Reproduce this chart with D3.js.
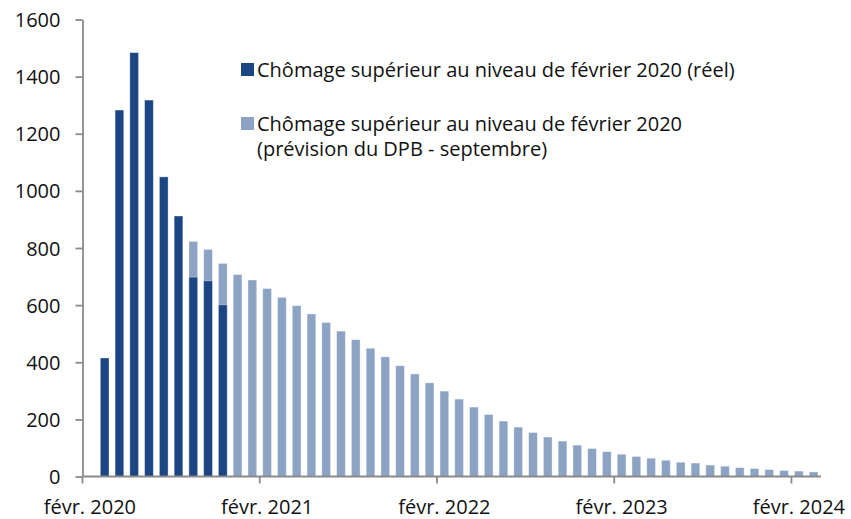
<!DOCTYPE html>
<html>
<head>
<meta charset="utf-8">
<script src="https://cdn.jsdelivr.net/npm/d3@7"></script>
<style>
  body { margin: 0; background: #fff; }
  svg { font-family: "Open Sans", "Noto Sans", sans-serif; }
  .axis path, .axis line { stroke: #8a8a8a; stroke-width: 1.8; }
  .axis text { font-size: 20px; fill: #111; }
  .legend text { font-size: 20px; fill: #111; }
</style>
</head>
<body>
<svg id="chart" width="851" height="519"></svg>
<script>
// mois (févr. 2020 -> mars 2024)
const months = [
  "2020-02","2020-03","2020-04","2020-05","2020-06","2020-07","2020-08","2020-09","2020-10","2020-11","2020-12",
  "2021-01","2021-02","2021-03","2021-04","2021-05","2021-06","2021-07","2021-08","2021-09","2021-10","2021-11","2021-12",
  "2022-01","2022-02","2022-03","2022-04","2022-05","2022-06","2022-07","2022-08","2022-09","2022-10","2022-11","2022-12",
  "2023-01","2023-02","2023-03","2023-04","2023-05","2023-06","2023-07","2023-08","2023-09","2023-10","2023-11","2023-12",
  "2024-01","2024-02","2024-03"
];
// chômage réel (milliers), févr. -> nov. 2020
const reel = [null, 415, 1283, 1484, 1318, 1049, 912, 698, 685, 601];
// prévision DPB septembre, à partir de sept. 2020
const prevision = [
  null, null, null, null, null, null, null,
  823, 795, 746, 707, 688, 658, 627, 598, 569, 539, 509, 479, 449, 419,
  388, 359, 328, 299, 271, 243, 217, 194, 173, 154, 138, 124, 110, 98,
  87, 78, 70, 64, 57, 50, 47, 40, 36, 31, 28, 24, 21, 19, 16
];
const yTicks = [0, 200, 400, 600, 800, 1000, 1200, 1400, 1600];
const xTickMonths = ["2020-02", "2021-02", "2022-02", "2023-02", "2024-02"];
const xTickLabels = ["févr. 2020", "févr. 2021", "févr. 2022", "févr. 2023", "févr. 2024"];
const legendItems = [
  { lines: ["Chômage supérieur au niveau de février 2020 (réel)"], color: "#1b4583" },
  { lines: ["Chômage supérieur au niveau de février 2020", "(prévision du DPB - septembre)"], color: "#8ca3c3" }
];

const svg = d3.select("#chart");
const plotL = 82.5, plotR = 821, plotT = 19.5, plotB = 476.5;

const x = d3.scaleBand().domain(months).range([plotL, plotR]).paddingInner(0.41).paddingOuter(0.205);
const y = d3.scaleLinear().domain([0, 1600]).range([plotB, plotT]);

// barres : prévision derrière, réel devant
function drawBars(values, color) {
  svg.append("g").selectAll("rect")
    .data(months.map((m, i) => ({ m, v: values[i] })).filter(d => d.v != null))
    .enter().append("rect")
    .attr("x", d => x(d.m))
    .attr("width", x.bandwidth())
    .attr("y", d => y(d.v))
    .attr("height", d => y(0) - y(d.v))
    .attr("fill", color)
    .attr("stroke", "rgba(255,255,255,0.45)")
    .attr("stroke-width", 0.8);
}
drawBars(prevision, legendItems[1].color);
drawBars(reel, legendItems[0].color);

// axe vertical
const gy = svg.append("g").attr("class", "axis")
  .attr("transform", `translate(${plotL},0)`)
  .call(d3.axisLeft(y).tickValues(yTicks).tickFormat(d3.format("d"))
    .tickSize(7).tickPadding(15).tickSizeOuter(0));
gy.selectAll("text").attr("dy", "0.35em");

// axe horizontal : étiquettes au centre du mois, graduations en bordure
const gx = svg.append("g").attr("class", "axis")
  .attr("transform", `translate(0,${plotB})`)
  .call(d3.axisBottom(x).tickValues(xTickMonths).tickSize(0).tickSizeOuter(0).tickPadding(23)
    .tickFormat((d, i) => xTickLabels[i]));
gx.select(".domain").attr("d", `M${plotL},0H${plotR}`);
const half = x.step() * x.paddingInner() / 2;
gx.selectAll(".xtick").data(xTickMonths).enter().append("line")
  .attr("class", "xtick")
  .attr("x1", d => x(d) - half).attr("x2", d => x(d) - half)
  .attr("y1", 0).attr("y2", 7);

svg.selectAll(".axis").attr("font-family", null).attr("font-size", null);

// légende
const lg = svg.append("g").attr("class", "legend");
const legendY = [77, 131];
legendItems.forEach((item, i) => {
  lg.append("rect").attr("x", 241).attr("y", legendY[i] - 14).attr("width", 13).attr("height", 13)
    .attr("fill", item.color);
  item.lines.forEach((t, j) => {
    lg.append("text").attr("x", 257).attr("y", legendY[i] + j * 25).text(t);
  });
});
</script>
</body>
</html>
